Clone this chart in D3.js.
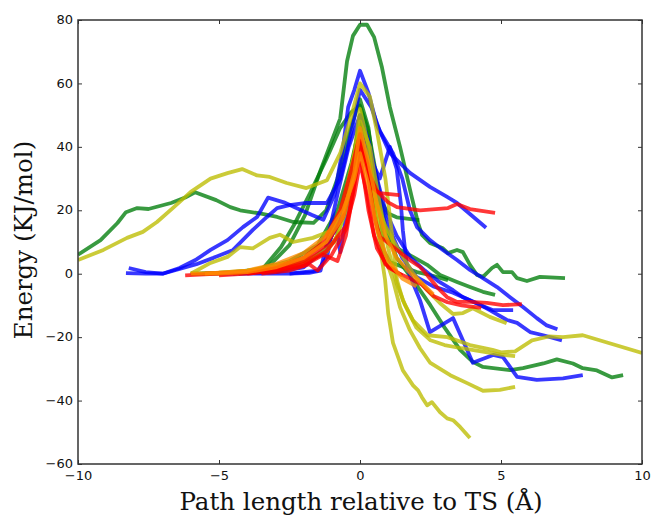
<!DOCTYPE html>
<html><head><meta charset="utf-8">
<script src="https://cdn.jsdelivr.net/npm/d3@7/dist/d3.min.js"></script>
<style>body{margin:0;background:#fff}svg{display:block}</style>
</head><body>
<svg id="c" width="653" height="515"></svg>
<script>
// ---- data (x: path length relative to TS in Å, y: energy kJ/mol) ----
const xTicks = [-10, -5, 0, 5, 10];
const yTicks = [-60, -40, -20, 0, 20, 40, 60, 80];
const xLabel = "Path length relative to TS (Å)";
const yLabel = "Energy (KJ/mol)";

const green1 = [[-10,6],[-9.2,10.6],[-8.6,16],[-8.3,19.4],[-7.9,20.7],[-7.5,20.4],[-6.7,22.3],[-6.2,24],[-5.85,25.7],[-5.1,23.2],[-4.6,21],[-4.25,20],[-3.55,19],[-2.94,17.9],[-2.37,16.3],[-1.65,16],[-1.2,20],[-0.8,30],[-0.4,44],[0,55],[0.3,46],[0.55,28],[0.82,11.6],[1.06,9.7],[1.42,7.5],[1.88,5.3],[2.38,2.8],[2.84,-0.4],[3.44,-2.6],[3.9,-4.2],[4.36,-5.7],[4.79,-6.7]];
const greenTall = [[-3.9,0.5],[-3.2,2.7],[-2.5,9],[-1.95,18.5],[-1.4,32.6],[-0.7,49],[-0.46,67],[-0.25,75],[0,78.5],[0.25,78.5],[0.5,74.6],[0.78,65],[1.06,52.5],[1.42,40],[1.84,24],[2.06,16],[2.2,12.2],[2.48,9.7],[2.94,8],[3.12,6.5],[3.44,7.5],[3.65,6.8],[3.9,2.8],[4.15,-0.4],[4.36,-1],[4.68,1.8],[4.86,2.8],[5.07,0.5],[5.39,0.5],[5.57,-1.4],[5.92,-2.3],[6.38,-1],[7.27,-1.4]];
const greenSteep = [[-4.5,0],[-3.5,1],[-2.8,8.4],[-2.3,16],[-1.77,25.4],[-1.2,36],[-0.7,46],[-0.3,51],[0,53],[0.3,45],[0.6,30],[0.9,15],[1.3,5],[1.88,-2],[2.5,-10],[3.0,-17],[3.55,-24],[4.0,-27.8],[4.36,-29.4],[5.32,-30.4],[5.78,-29.8],[6.5,-28.3],[6.98,-27],[7.55,-28.3],[7.9,-29.8],[8.4,-30.5],[8.94,-32.7],[9.33,-32]];
const green4 = [[-5.6,0],[-4.5,0.5],[-3.5,1.5],[-2.5,4],[-1.5,9],[-0.8,20],[-0.3,35],[0,47],[0.3,35],[0.6,15],[0.82,7.5],[1.06,3.7],[1.52,2.1],[2.02,0.5],[2.48,-0.4],[3.12,-2]];
const green5 = [[-3,0.5],[-2,3],[-1.2,8],[-0.6,20],[-0.2,38],[0,50],[0.3,40],[0.6,25],[1.0,19],[1.3,17.8],[2.1,16.9]];

const blue1 = [[-8.2,1.8],[-7.6,0.5],[-7.0,0],[-6.4,1.8],[-5.8,4.5],[-5.3,7.5],[-4.7,10.6],[-4.15,14.7],[-3.65,17.9],[-3.26,24],[-2.7,22.5],[-2.2,20.5],[-1.7,18.5],[-1.3,17],[-0.9,25],[-0.6,40],[-0.42,52.5],[-0.2,58],[0,64],[0.3,57],[0.6,47],[1.06,38],[1.77,31.8],[2.48,27.4],[3.09,24.2],[3.44,22.3],[4.47,14.5]];
const blue2 = [[-8.3,0.2],[-7.6,0],[-7.0,0],[-6.4,1.5],[-5.8,3],[-5.2,5],[-4.5,7.5],[-3.8,13.8],[-3.3,17.9],[-2.94,20.7],[-2.5,21.6],[-1.9,22.3],[-1.17,22.3],[-0.7,30],[-0.3,45],[0,58],[0.4,52.5],[0.7,45],[1.17,38],[1.5,30],[1.77,20],[2.02,14.7],[2.48,10.6],[2.94,7.5],[3.44,4.3],[3.9,1.2],[4.36,-1.4],[4.86,-4.2],[5.32,-7.4],[5.78,-10.5],[6.27,-14],[6.6,-16.2],[7.0,-17.5]];
const blue3 = [[-4.3,0],[-3.5,0],[-2.5,0],[-1.8,0.3],[-1.4,1],[-1.17,10],[-0.8,25],[-0.4,40],[0,50],[0.3,42],[0.6,30],[0.9,20],[1.3,12],[1.8,5],[2.3,1],[2.8,-2.5],[3.3,-5.2],[3.65,-7.4],[4.15,-9.3],[4.6,-11.5],[5.21,-14.6],[5.57,-15.5],[6.03,-18.4],[6.5,-19.4],[7.16,-21]];
const blue4 = [[-2.5,0],[-1.5,1],[-1.17,5.3],[-1.0,12.7],[-0.85,15],[-0.7,6.8],[-0.55,15],[-0.3,30],[0,46],[0.3,36],[0.6,25],[1.0,15],[1.5,5],[2.0,-1],[2.6,-4],[3.3,-6],[3.8,-8],[4.26,-9.9],[4.72,-11.5],[5.43,-11.5]];
const blue5 = [[-6,0],[-4.5,0],[-3,0.5],[-2,2],[-1.2,8],[-0.6,20],[-0.2,35],[0,42],[0.3,38],[0.7,30],[1.06,40],[1.3,33],[1.45,22],[1.52,13.7],[1.67,2],[1.88,-3],[2.13,-8.4],[2.48,-18.4],[3.3,-14],[4.0,-28.1],[4.72,-25.6],[5.07,-26.3],[5.57,-32.5],[6.27,-33.5],[7.2,-33],[7.9,-32]];

const red1 = [[-5.5,0],[-4,0.5],[-3,1.5],[-2,4],[-1.2,9],[-0.6,18],[-0.2,32],[0,40],[0.3,32],[0.6,26],[1.0,22.5],[1.31,21],[2.13,20],[3.12,20.7],[3.44,22],[3.9,20.4],[4.79,19.2]];
const red2 = [[-6.2,-0.5],[-5,0],[-4,0.5],[-3,2],[-2,5],[-1.3,10],[-0.7,20],[-0.3,33],[0,44],[0.3,30],[0.5,18],[0.71,11.6],[0.96,10],[1.31,7.5],[1.77,4.3],[2.13,2.1],[2.38,-0.4],[2.73,-4.2],[3.09,-7.4],[3.44,-8.9],[3.9,-8.9],[4.5,-9.2],[5.07,-9.9],[5.74,-9.6]];
const red3 = [[-5,-0.5],[-4,0],[-3,1],[-2,3],[-1.2,7],[-0.5,15],[-0.2,25],[0,35],[0.25,25],[0.5,12],[0.9,3],[1.4,0],[1.88,-2],[2.2,-3.5],[2.6,-7],[3.1,-9],[3.6,-10],[4.3,-10.8]];
const red4 = [[-4,0],[-3,1],[-2,2.5],[-1.3,6],[-0.8,4],[-0.5,12],[-0.2,28],[0,42],[0.25,35],[0.45,27],[0.7,25.4],[1.4,24.8]];
const red5 = [[-3.5,0],[-2.5,1],[-1.8,3],[-1.5,1],[-1,6],[-0.5,14],[0,38],[0.3,20],[0.6,8],[1.0,2],[1.5,-0.5]];

const orange1 = [[-6,0],[-5,0],[-4,0.5],[-3,2],[-2,5],[-1.2,10],[-0.6,18],[-0.2,32],[0,46],[0.3,35],[0.6,22],[0.9,12],[1.3,5],[1.8,0],[2.2,-3],[2.6,-6.5]];
const orange2 = [[-5.5,0],[-4,1],[-3,3],[-2,6.5],[-1.2,12],[-0.6,20],[-0.2,30],[0,38],[0.3,28],[0.6,14],[1.0,4],[1.5,-1.5],[2.0,-4]];

const yellow1 = [[-10,4.3],[-9.1,7.5],[-8.26,11.3],[-7.7,13.2],[-7.2,16.3],[-6.6,21],[-6.0,25.8],[-5.3,30],[-4.7,31.7],[-4.18,33],[-3.65,31],[-3.2,30.5],[-2.6,28.6],[-1.9,27],[-1.17,29.5],[-0.7,38],[-0.3,50],[0,60],[0.35,55.8],[0.6,45],[0.9,30],[1.1,15],[1.31,-2],[1.52,-8.4],[1.88,-14.7],[2.4,-19.4],[3.1,-20],[3.9,-22.5],[4.7,-24],[5.0,-24.8],[5.5,-24.5],[6.1,-21],[6.7,-19.8],[7.2,-20],[7.9,-19.4],[10,-25]];
const yellow2 = [[-6,0],[-5,0.3],[-4,1],[-3,2.5],[-2,5],[-1.2,10],[-0.6,22],[-0.2,38],[0,52],[0.3,40],[0.6,20],[0.9,5],[1.17,-2],[1.42,-10.6],[1.77,-17.8],[2.13,-23.5],[2.48,-28],[3.2,-32],[3.8,-34.5],[4.36,-36.9],[4.96,-36.6],[5.5,-35.7]];
const yellow3 = [[-6,0],[-5.3,3.4],[-4.7,5.3],[-4.25,8.4],[-3.8,8],[-3.2,11.3],[-2.84,12.3],[-2.37,10],[-1.67,11.3],[-0.96,13.8],[-0.5,25],[-0.2,38],[0,45],[0.3,35],[0.6,15],[0.89,-2],[1.0,-12.5],[1.17,-21.8],[1.52,-30.5],[1.88,-35.2],[2.06,-36.8],[2.2,-39],[2.38,-41.5],[2.55,-40.5],[2.84,-43.7],[3.09,-45.6],[3.3,-46.2],[3.55,-48.3],[3.9,-51.8]];
const yellow4 = [[-6,0],[-5,0],[-4,0.5],[-3,1.5],[-2.2,3],[-1.6,5],[-1.17,7],[-0.8,12],[-0.4,25],[0,42],[0.3,32],[0.6,22],[0.9,15],[1.17,10.6],[1.52,5.3],[1.88,0.2],[2.38,-5.2],[2.84,-9.3],[3.3,-12.7],[3.65,-12.4],[4.0,-10.9],[4.6,-13.6],[5.2,-15.6]];
const yellow5 = [[-5,0],[-4,0.5],[-3,2],[-2,4],[-1.5,6],[-0.9,10],[-0.4,22],[0,48],[0.35,40],[0.7,22],[1.0,8],[1.3,-3],[1.6,-10],[2.0,-17],[2.5,-21],[3.0,-22.5],[3.6,-23.5],[4.3,-24.5],[5.0,-25.5],[5.5,-26]];

const seriesList = [
  {d: green1, c: "green"}, {d: greenTall, c: "green"}, {d: greenSteep, c: "green"},
  {d: green4, c: "green"}, {d: green5, c: "green"},
  {d: blue1, c: "blue"}, {d: blue2, c: "blue"}, {d: blue3, c: "blue"},
  {d: blue4, c: "blue"}, {d: blue5, c: "blue"},
  {d: yellow1, c: "yellow"}, {d: yellow2, c: "yellow"}, {d: yellow3, c: "yellow"},
  {d: yellow4, c: "yellow"}, {d: yellow5, c: "yellow"},
  {d: red1, c: "red"}, {d: red2, c: "red"}, {d: red3, c: "red"},
  {d: red4, c: "red"}, {d: red5, c: "red"},
  {d: orange1, c: "orange"}, {d: orange2, c: "orange"}
];
const palette = {green: "#007d0a", blue: "#0000ff", red: "#ff0000", yellow: "#bdbd00", orange: "#ff8c00"};

// ---- drawing ----
const svg = d3.select("#c");
const L = 78, R = 642, T = 20, B = 464;
const x = d3.scaleLinear().domain([-10, 10]).range([L, R]);
const y = d3.scaleLinear().domain([-60, 80]).range([B, T]);

svg.append("clipPath").attr("id", "pc").append("rect")
  .attr("x", L).attr("y", T).attr("width", R - L).attr("height", B - T);

const line = d3.line().x(d => x(d[0])).y(d => y(d[1]));
svg.append("g").attr("clip-path", "url(#pc)")
  .selectAll("path").data(seriesList).join("path")
  .attr("d", s => line(s.d))
  .attr("fill", "none")
  .attr("stroke", s => palette[s.c])
  .attr("stroke-opacity", 0.78)
  .attr("stroke-width", 3.8)
  .attr("stroke-linejoin", "round");

const font = "'DejaVu Sans', sans-serif";
function styleAxis(g) {
  g.select(".domain").remove();
  g.selectAll(".tick line").attr("stroke", "#333").attr("stroke-width", 1);
  g.selectAll(".tick text").attr("font-family", font).attr("font-size", 13).attr("fill", "#111");
}
svg.append("g").attr("transform", `translate(${L},0)`)
  .call(d3.axisLeft(y).tickValues(yTicks).tickSizeInner(-4).tickSizeOuter(0).tickPadding(5).tickFormat(d3.format("d")))
  .call(g => g.selectAll(".tick text").attr("dy", "0.28em"))
  .call(styleAxis);
svg.append("g").attr("transform", `translate(${R},0)`)
  .call(d3.axisRight(y).tickValues(yTicks).tickSizeInner(-4).tickSizeOuter(0).tickFormat(""))
  .call(styleAxis);
svg.append("g").attr("transform", `translate(0,${B})`)
  .call(d3.axisBottom(x).tickValues(xTicks).tickSizeInner(-4).tickSizeOuter(0).tickPadding(7).tickFormat(d3.format("d")))
  .call(styleAxis);
svg.append("g").attr("transform", `translate(0,${T})`)
  .call(d3.axisTop(x).tickValues(xTicks).tickSizeInner(-4).tickSizeOuter(0).tickFormat(""))
  .call(styleAxis);

svg.append("rect").attr("x", L).attr("y", T).attr("width", R - L).attr("height", B - T)
  .attr("fill", "none").attr("stroke", "#333").attr("stroke-width", 1.5);

const serif = "'DejaVu Serif', serif";
svg.append("text").attr("x", 361).attr("y", 510).attr("text-anchor", "middle")
  .attr("font-family", serif).attr("font-size", 24.5).attr("fill", "#111").text(xLabel);
svg.append("text").attr("transform", `translate(32,${(T + B) / 2 - 2}) rotate(-90)`).attr("text-anchor", "middle")
  .attr("font-family", serif).attr("font-size", 24.5).attr("fill", "#111").text(yLabel);
</script>
</body></html>
